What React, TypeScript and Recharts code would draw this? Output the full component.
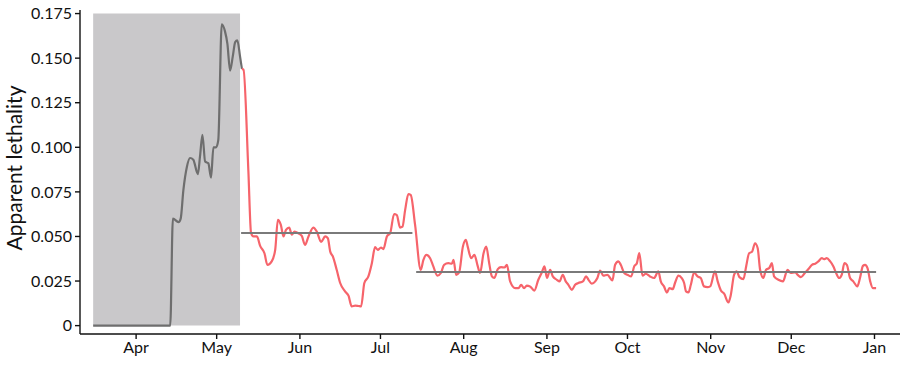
import { ComposedChart, Line, XAxis, YAxis, ReferenceArea } from "recharts";

// x = days since 1 Apr
const monthTicks = [0, 30, 61, 91, 122, 153, 183, 214, 244, 275];
const monthLabels = ["Apr", "May", "Jun", "Jul", "Aug", "Sep", "Oct", "Nov", "Dec", "Jan"];
const yTicks = [0, 0.025, 0.05, 0.075, 0.1, 0.125, 0.15, 0.175];

const earlyDays = [-16, 12.7, 13.7, 15.8, 16.6, 17.6, 18.9, 20.1, 21.3, 23, 23.8, 24.7, 25.7, 26.9, 27.9, 28.8, 29.8, 30.6, 31.9, 33.1, 34, 35, 36, 36.9, 37.7, 38.7, 39.4];
const earlyVals = [0, 0, 0.06, 0.058, 0.06, 0.076, 0.089, 0.094, 0.093, 0.085, 0.095, 0.107, 0.092, 0.091, 0.083, 0.1, 0.1, 0.104, 0.169, 0.165, 0.158, 0.143, 0.151, 0.159, 0.16, 0.151, 0.144];

const lateDays = [
  39.4, 40, 41.8, 42.8, 43.7, 45, 46.2, 47.8, 48.9, 50.5, 51.8, 52.8, 53.9, 54.9, 55.8, 57, 58, 59, 60.4, 61.7,
  62.9, 64.2, 66, 67.3, 68.9, 70.4, 71.4, 72.3, 73.3, 74.7, 76, 77.8, 79.1, 80.3, 81.6, 82.8, 83.8, 85, 86.5, 87.8,
  89, 90, 91.2, 92.1, 93.4, 94.6, 96.1, 97.1, 98.3, 99.2, 100.2, 101.4, 102.3, 103.9, 106, 107, 108.1, 109.5, 110.7, 112.2,
  113.5, 114.7, 116.3, 117.6, 118.2, 119.2, 120.3, 121.7, 122.8, 123.5, 124.8, 126, 127.1, 128.1, 129.4, 130.4, 131.5, 132.5, 133.4, 134.7,
  135.9, 137.2, 138.1, 139.3, 141.2, 142.4, 143.4, 144.5, 145.5, 146.7, 148.3, 149.8, 151.1, 152.1, 153, 154.2, 155.2, 156.7, 157.7, 158.9,
  160, 161, 162.3, 163.5, 164.7, 166.4, 167.6, 168.5, 169.7, 171, 171.8, 172.8, 174, 175.5, 177.4, 178.4, 179.6, 180.5, 181.8, 183,
  184.4, 185.5, 186.5, 187.4, 188.6, 189.8, 191.4, 192.9, 194.5, 195.4, 196.6, 197.7, 198.6, 199.9, 200.7, 202, 203.2, 204.1, 204.8, 205.7,
  206.6, 207.8, 209.1, 210.3, 211.5, 212.8, 213.8, 215.6, 216.6, 217.8, 219, 220.6, 221.5, 222.7, 223.7, 224.7, 226.2, 227.2, 228.3, 229.4,
  230.5, 231.5, 232.4, 233.6, 234.6, 235.8, 236.8, 237.6, 239.2, 240.9, 242.6, 243.8, 245.4, 246.7, 247.6, 249.2, 250.4, 251.7, 252.9, 254.1,
  255.4, 256.2, 257.2, 258.5, 259.7, 260.7, 261.8, 262.8, 263.8, 264.7, 265.9, 267.1, 268.6, 269.6, 270.7, 271.5, 272.4, 273.4, 274.4, 275.6,
];
const lateVals = [
  0.144, 0.1435, 0.087, 0.052, 0.05, 0.05, 0.0447, 0.0406, 0.034, 0.036, 0.0425, 0.0593, 0.0565, 0.05, 0.0537, 0.055, 0.051, 0.0527, 0.0518, 0.0503,
  0.0453, 0.05, 0.055, 0.0527, 0.047, 0.05, 0.049, 0.0415, 0.0387, 0.0313, 0.0239, 0.0192, 0.0168, 0.0108, 0.0112, 0.011, 0.0108, 0.0239, 0.0276, 0.035,
  0.044, 0.0425, 0.0438, 0.0429, 0.05, 0.0518, 0.0626, 0.062, 0.055, 0.0555, 0.0649, 0.0738, 0.0732, 0.0565, 0.0313, 0.0369, 0.0397, 0.0378, 0.0332, 0.028,
  0.0295, 0.0341, 0.035, 0.0347, 0.0369, 0.0285, 0.0298, 0.0443, 0.0481, 0.0443, 0.0378, 0.0397, 0.0341, 0.0295, 0.0406, 0.0443, 0.035, 0.0276, 0.0267, 0.0317,
  0.0328, 0.0326, 0.0341, 0.0248, 0.021, 0.021, 0.0229, 0.021, 0.0224, 0.022, 0.0196, 0.0257, 0.0298, 0.0332, 0.0267, 0.0313, 0.0276, 0.0257, 0.0248, 0.0285,
  0.0248, 0.0229, 0.0201, 0.0229, 0.0239, 0.0248, 0.0276, 0.0257, 0.0235, 0.0248, 0.0267, 0.0309, 0.028, 0.0285, 0.0253, 0.0341, 0.036, 0.0341, 0.0295, 0.0285,
  0.0276, 0.0332, 0.035, 0.0406, 0.028, 0.0291, 0.0276, 0.0267, 0.0304, 0.0248, 0.022, 0.0186, 0.021, 0.0205, 0.0239, 0.028, 0.0267, 0.0239, 0.0192, 0.0186,
  0.0229, 0.0298, 0.0276, 0.0267, 0.022, 0.0216, 0.022, 0.0304, 0.0248, 0.0197, 0.0179, 0.013, 0.0173, 0.0285, 0.0304, 0.0272, 0.0261, 0.0332, 0.0406, 0.0414,
  0.0462, 0.0434, 0.0313, 0.0267, 0.0313, 0.0323, 0.035, 0.0276, 0.0257, 0.0248, 0.0313, 0.0295, 0.0298, 0.028, 0.0272, 0.0298, 0.0317, 0.0341, 0.0347, 0.036,
  0.0378, 0.0373, 0.0378, 0.036, 0.0332, 0.0295, 0.0267, 0.0285, 0.035, 0.0341, 0.0267, 0.0248, 0.022, 0.0267, 0.0335, 0.0341, 0.0323, 0.0248, 0.021, 0.021,
];

// period means
const meanA = { from: 39.1, to: 102.9, value: 0.052 };
const meanB = { from: 104.3, to: 275.6, value: 0.03 };
const shadeFrom = -16;
const shadeTo = 38.7;

const toPoints = (xs: number[], ys: number[]) => xs.map((d, i) => ({ d, v: ys[i] }));
const earlyData = toPoints(earlyDays, earlyVals);
const lateData = toPoints(lateDays, lateVals);
const meanAData = [{ d: meanA.from, v: meanA.value }, { d: meanA.to, v: meanA.value }];
const meanBData = [{ d: meanB.from, v: meanB.value }, { d: meanB.to, v: meanB.value }];

const font = "Lato, 'Open Sans', sans-serif";
const tickStyle = { fontSize: 16, fill: "#111", fontFamily: font };

export default function App() {
  return (
    <div style={{ position: "absolute", left: 0, top: 0, width: 900, height: 369 }}>
      <ComposedChart width={900} height={369} margin={{ top: 10, right: 0, bottom: 0, left: 0 }}>
        <XAxis
          type="number"
          dataKey="d"
          domain={[-20.9, 284.5]}
          allowDataOverflow
          ticks={monthTicks}
          tickFormatter={(t: number) => monthLabels[monthTicks.indexOf(t)] ?? ""}
          tick={tickStyle}
          tickSize={5}
          tickMargin={3}
          height={35}
          stroke="#111"
          strokeWidth={1.4}
          interval={0}
        />
        <YAxis
          type="number"
          domain={[-0.0047, 0.177]}
          allowDataOverflow
          ticks={yTicks}
          tickFormatter={(t: number) => (t === 0 ? "0" : t.toFixed(3))}
          tick={tickStyle}
          tickSize={5}
          tickMargin={3}
          width={80}
          stroke="#111"
          strokeWidth={1.4}
          interval={0}
          label={{ value: "Apparent lethality", angle: -90, position: "insideLeft", dx: 10, dy: -4, style: { fontSize: 21, fill: "#111", fontFamily: font, textAnchor: "middle" } }}
        />
        <ReferenceArea x1={shadeFrom} x2={shadeTo} y1={0} y2={0.175} fill="#c9c8ca" fillOpacity={1} stroke="none" />
        <Line data={earlyData} dataKey="v" type="monotone" stroke="#6e6e6e" strokeWidth={2.2} dot={false} isAnimationActive={false} />
        <Line data={lateData} dataKey="v" type="monotone" stroke="#f6646b" strokeWidth={2.2} dot={false} isAnimationActive={false} />
        <Line data={meanAData} dataKey="v" type="linear" stroke="#7a7a7a" strokeWidth={2} dot={false} isAnimationActive={false} />
        <Line data={meanBData} dataKey="v" type="linear" stroke="#7a7a7a" strokeWidth={2} dot={false} isAnimationActive={false} />
      </ComposedChart>
    </div>
  );
}
